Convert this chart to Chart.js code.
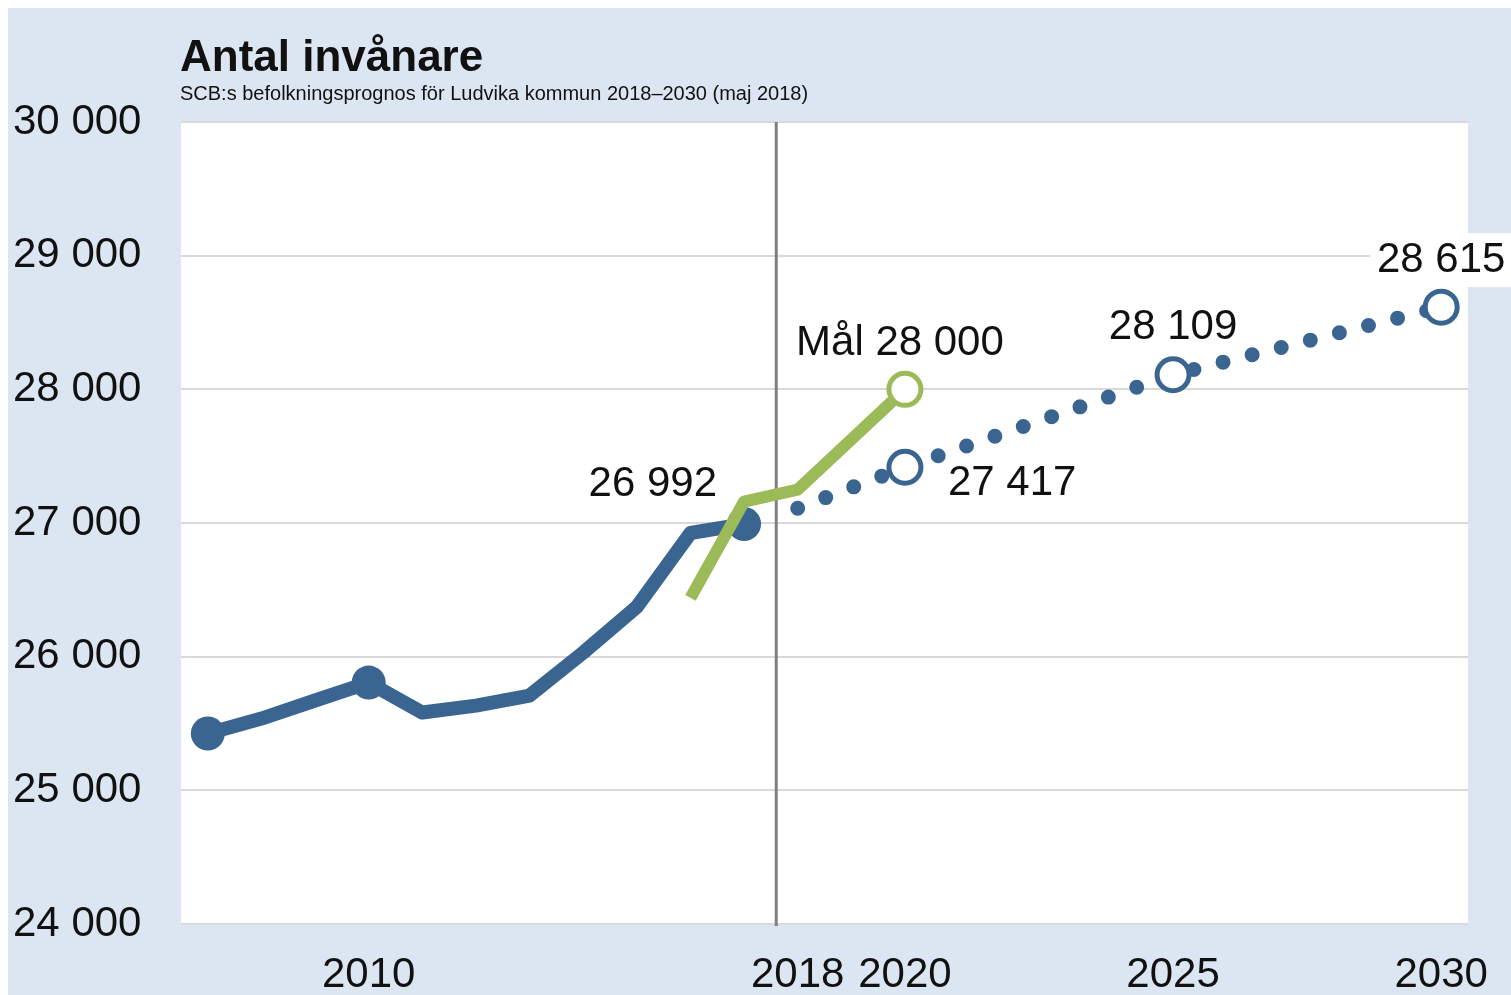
<!DOCTYPE html>
<html>
<head>
<meta charset="utf-8">
<script src="https://cdn.jsdelivr.net/npm/chart.js@4"></script>
<style>
  html, body { margin: 0; padding: 0; background: #fff; }
  #wrap { position: absolute; left: 0; top: 0; width: 1511px; height: 995px; }
</style>
</head>
<body>
<div id="wrap"><canvas id="PopChart" width="1511" height="995"></canvas></div>
<script>
// historic population
const histYears = [2007, 2008, 2009, 2010, 2011, 2012, 2013, 2014, 2015, 2016, 2017];
const histValues = [25425, 25537, 25672, 25806, 25582, 25634, 25709, 26030, 26373, 26925, 26992];
const histMarked = [2007, 2010, 2017];

// goal line
const goalYears = [2016, 2017, 2018, 2020];
const goalValues = [26440, 27160, 27250, 28000];

// SCB forecast
const progYears = [2018, 2020, 2025, 2030];
const progValues = [27110, 27417, 28109, 28615];
const progMarked = [2020, 2025, 2030];

// axes
const xTickYears = [2010, 2018, 2020, 2025, 2030];
const splitYear = 2017.6;

// value callouts
const calloutYears = [2017, 2020, 2020, 2025, 2030];
const calloutValues = [26992, 28000, 27417, 28109, 28615];
const calloutTexts = ["26 992", "Mål 28 000", "27 417", "28 109", "28 615"];

const titleText = "Antal invånare";
const subtitleText = "SCB:s befolkningsprognos för Ludvika kommun 2018–2030 (maj 2018)";

const BLUE = "#3b6591";
const GREEN = "#9bbb59";
const FONT = '"Liberation Sans", Arial, sans-serif';

function fmt(v) {
    return String(v).replace(/\B(?=(\d{3})+(?!\d))/g, " ");
}

function toPoints(xs, ys) {
    return xs.map((x, i) => ({ x: x, y: ys[i] }));
}

// background, plot area, title, split line
const backdrop = {
    id: "backdrop",
    beforeDraw(chart) {
        const { ctx, chartArea: a } = chart;
        ctx.save();
        ctx.fillStyle = "#dce6f2";
        ctx.fillRect(8, 8, chart.width - 8, chart.height - 8);
        ctx.fillStyle = "#ffffff";
        ctx.fillRect(a.left, a.top, a.right - a.left, a.bottom - a.top);
        ctx.fillStyle = "#111";
        ctx.textBaseline = "alphabetic";
        ctx.font = "bold 44px " + FONT;
        ctx.fillText(titleText, 180, 71);
        ctx.font = "20px " + FONT;
        ctx.fillText(subtitleText, 180, 100);
        ctx.restore();
    },
    beforeDatasetsDraw(chart) {
        const { ctx, chartArea: a, scales } = chart;
        const px = scales.x.getPixelForValue(splitYear);
        ctx.save();
        ctx.strokeStyle = "#7f7f7f";
        ctx.lineWidth = 3;
        ctx.beginPath();
        ctx.moveTo(px, a.top);
        ctx.lineTo(px, a.bottom + 2);
        ctx.stroke();
        ctx.restore();
    }
};

// text next to the points
const callouts = {
    id: "callouts",
    afterDraw(chart) {
        const { ctx, scales } = chart;
        const place = [
            { align: "right", dx: -27, dy: -40 },
            { align: "center", dx: -5, dy: -46 },
            { align: "left", dx: 43, dy: 16 },
            { align: "center", dx: 0, dy: -47 },
            { align: "center", dx: 0, dy: -47, box: true }
        ];
        ctx.save();
        ctx.font = "42px " + FONT;
        ctx.textBaseline = "middle";
        calloutTexts.forEach((t, i) => {
            const px = scales.x.getPixelForValue(calloutYears[i]) + place[i].dx;
            const py = scales.y.getPixelForValue(calloutValues[i]) + place[i].dy;
            if (place[i].box) {
                const w = ctx.measureText(t).width;
                ctx.fillStyle = "#ffffff";
                ctx.fillRect(px - w / 2 - 7, py - 27, chart.width, 54);
            }
            ctx.fillStyle = "#111";
            ctx.textAlign = place[i].align;
            ctx.fillText(t, px, py);
        });
        ctx.restore();
    }
};

const ctx = document.getElementById("PopChart").getContext("2d");

new Chart(ctx, {
    type: "line",
    data: {
        datasets: [
            {
                label: "Invånare",
                data: toPoints(histYears, histValues),
                borderColor: BLUE,
                backgroundColor: BLUE,
                borderWidth: 14,
                borderJoinStyle: "round",
                pointRadius: histYears.map(y => histMarked.includes(y) ? 17 : 0),
                pointBorderWidth: 0,
                pointBackgroundColor: BLUE,
                order: 3
            },
            {
                label: "Prognos",
                data: toPoints(progYears, progValues),
                borderColor: BLUE,
                borderWidth: 15,
                borderDash: [0, 30],
                borderCapStyle: "round",
                pointRadius: progYears.map(y => progMarked.includes(y) ? 16 : 0),
                pointBorderWidth: 5,
                pointBorderColor: BLUE,
                pointBackgroundColor: "#ffffff",
                order: 2
            },
            {
                label: "Mål",
                data: toPoints(goalYears, goalValues),
                borderColor: GREEN,
                borderWidth: 12,
                borderJoinStyle: "round",
                pointRadius: goalYears.map(y => y === 2020 ? 16 : 0),
                pointBorderWidth: 5,
                pointBorderColor: GREEN,
                pointBackgroundColor: "#ffffff",
                order: 1
            }
        ]
    },
    options: {
        responsive: false,
        animation: false,
        devicePixelRatio: 1,
        clip: false,
        layout: { padding: { left: 13, right: 43, top: 122, bottom: 0 } },
        plugins: { legend: { display: false }, tooltip: { enabled: false } },
        scales: {
            x: {
                type: "linear",
                min: 2006.5,
                max: 2030.5,
                afterBuildTicks: scale => { scale.ticks = xTickYears.map(v => ({ value: v })); },
                afterFit: scale => {
                    scale.height = 71;
                    scale.paddingLeft = 0;
                    scale.paddingRight = 0;
                },
                grid: { display: false, drawTicks: false },
                border: { display: false },
                ticks: {
                    color: "#111",
                    font: { size: 42, family: FONT },
                    padding: 26,
                    maxRotation: 0,
                    autoSkip: false,
                    callback: v => String(v)
                }
            },
            y: {
                min: 24000,
                max: 30000,
                afterFit: scale => { scale.width = 168; },
                grid: { color: "#d9d9d9", lineWidth: 2, drawTicks: false },
                border: { display: false },
                ticks: {
                    stepSize: 1000,
                    color: "#111",
                    crossAlign: "far",
                    padding: 0,
                    font: { size: 42, family: FONT },
                    callback: v => fmt(v)
                }
            }
        }
    },
    plugins: [backdrop, callouts]
});
</script>
</body>
</html>
